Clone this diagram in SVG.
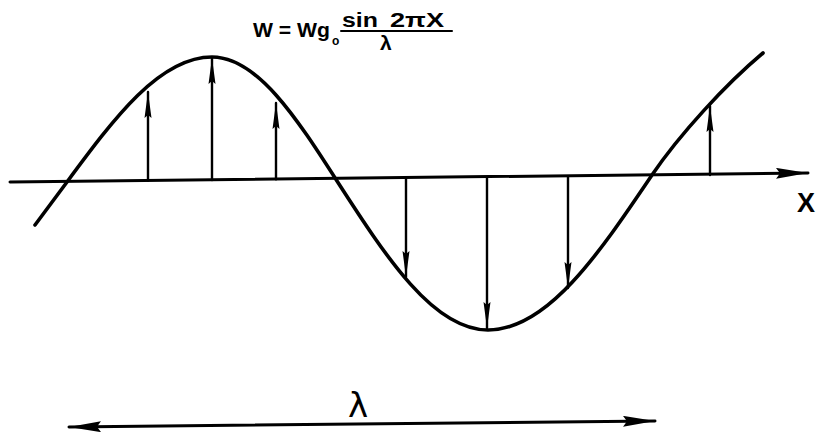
<svg xmlns="http://www.w3.org/2000/svg" width="817" height="436" viewBox="0 0 817 436">
<style>
.ink{stroke:#000;fill:none;stroke-linecap:round;stroke-linejoin:round}
.curve{stroke-width:3.6}
.axis{stroke-width:3}
.vec{stroke-width:2.4}
.dim{stroke-width:3}
.t{font-family:"Liberation Sans","DejaVu Sans",sans-serif;font-weight:bold;fill:#000}
.hand{font-family:"DejaVu Sans","Liberation Sans",sans-serif;font-weight:normal;fill:#000}
</style>
<defs>
<marker id="ah" markerUnits="userSpaceOnUse" viewBox="0 0 26 8" refX="26" refY="4" markerWidth="26" markerHeight="8" orient="auto">
<path d="M0,0.5 L26,4 L0,7.5 L3,4 Z" fill="#000"/>
</marker>
<marker id="big" markerUnits="userSpaceOnUse" viewBox="0 0 32 11" refX="32" refY="5.5" markerWidth="32" markerHeight="11" orient="auto-start-reverse">
<path d="M0,0 L32,5.5 L0,11 L4,5.5 Z" fill="#000"/>
</marker>
</defs>
<g id="formula">
<text class="t" x="253" y="37" font-size="21" textLength="77" lengthAdjust="spacingAndGlyphs">W = Wg</text>
<text class="t" x="332" y="45" font-size="12">o</text>
<line class="ink" x1="341" y1="31" x2="452" y2="31" stroke-width="2"/>
<text class="t" x="342" y="27" font-size="20" textLength="36" lengthAdjust="spacingAndGlyphs">sin</text>
<text class="t" x="390" y="27" font-size="20" textLength="54" lengthAdjust="spacingAndGlyphs">2πX</text>
<text class="t" x="380" y="50" font-size="21">λ</text>
</g>
<g id="axis">
<line class="ink axis" x1="10" y1="182" x2="808" y2="173" marker-end="url(#big)"/>
<text class="t" x="797" y="212" font-size="27">X</text>
</g>
<g id="wave">
<path class="ink curve" d="M35,225 L67,182 C114.3,118 159.6,57 212,57 C257.2,57 296.3,117.5 337,181 C386.2,257.3 433.4,330 488,330 C547.3,330 598.5,254.4 652,175 C680,134 725,85 763,53"/>
</g>
<g id="connectors">
<line class="ink vec" x1="148" y1="180.6" x2="148" y2="92" marker-end="url(#ah)"/>
<line class="ink vec" x1="212" y1="180" x2="212" y2="58" marker-end="url(#ah)"/>
<line class="ink vec" x1="276" y1="179.3" x2="276" y2="103" marker-end="url(#ah)"/>
<line class="ink vec" x1="406" y1="178" x2="406" y2="277" marker-end="url(#ah)"/>
<line class="ink vec" x1="487" y1="177.2" x2="487" y2="328" marker-end="url(#ah)"/>
<line class="ink vec" x1="568" y1="176.4" x2="568" y2="288" marker-end="url(#ah)"/>
<line class="ink vec" x1="710" y1="175" x2="710" y2="106" marker-end="url(#ah)"/>
</g>
<g id="wavelength">
<line class="ink dim" x1="69" y1="427" x2="655" y2="421" marker-start="url(#big)" marker-end="url(#big)"/>
<text class="hand" x="358" y="417" font-size="34" text-anchor="middle">λ</text>
</g>
</svg>
